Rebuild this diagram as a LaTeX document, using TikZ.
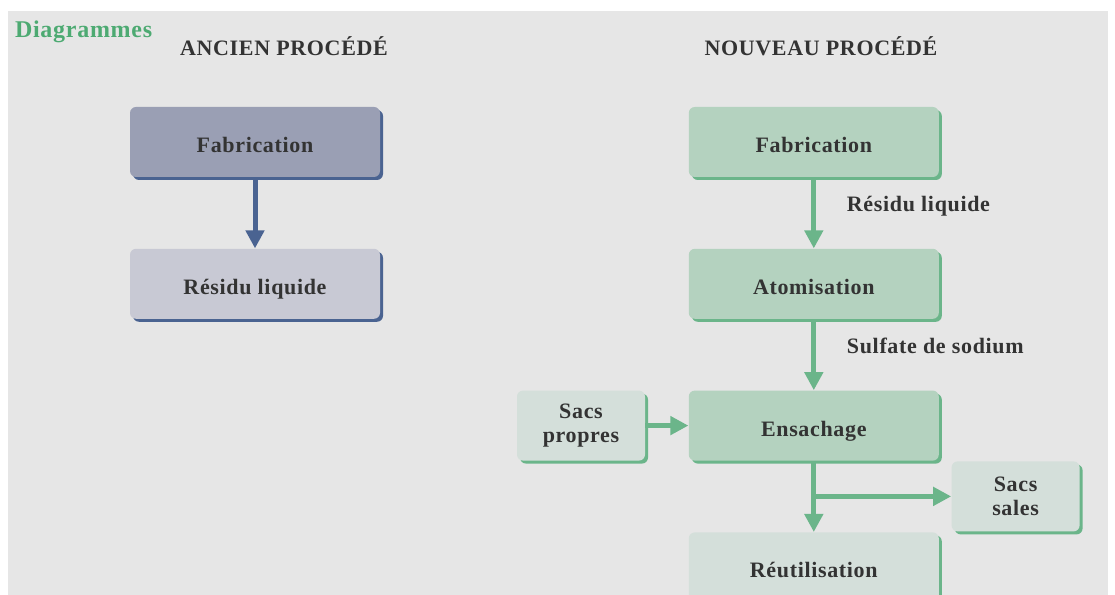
\documentclass[tikz,border=0pt]{standalone}
\usepackage{fontspec}
\setmainfont[LetterSpace=3]{Liberation Serif}
\usetikzlibrary{arrows.meta,positioning,shadows}

\definecolor{fond}{HTML}{E6E6E6}
\definecolor{txt}{HTML}{333333}
\definecolor{bleu}{HTML}{4A6391}
\definecolor{grisA}{HTML}{9A9FB4}
\definecolor{grisB}{HTML}{C8C9D4}
\definecolor{vert}{HTML}{6BB58A}
\definecolor{vertA}{HTML}{B4D2BF}
\definecolor{vertB}{HTML}{D4DFDA}
\definecolor{titreV}{HTML}{4DAA72}

\begin{document}
\begin{tikzpicture}[x=0.5pt, y=0.5pt, node distance=35.5pt,
    box/.style = {rounded corners=3pt, minimum width=125pt, minimum height=35pt,
        align=center, text=txt, font=\bfseries\fontsize{11}{12}\selectfont},
    oneline/.style = {text height=10.5pt, text depth=0pt},
    shadB/.style = {drop shadow={shadow xshift=1.5pt, shadow yshift=-1.5pt, fill=bleu, opacity=1}},
    shadG/.style = {drop shadow={shadow xshift=1.5pt, shadow yshift=-1.5pt, fill=vert, opacity=1}},
    oldbox/.style = {box, oneline, shadB},
    newbox/.style = {box, oneline, shadG},
    sidebox/.style = {box, shadG, fill=vertB, minimum width=64pt},
    arrB/.style = {draw=bleu, line width=2.5pt, -{Triangle[width=9pt,length=9pt]}},
    arrG/.style = {draw=vert, line width=2.5pt, -{Triangle[width=9pt,length=9pt]}},
    lbl/.style = {text=txt, font=\bfseries\fontsize{11}{12}\selectfont},
    titre/.style = {text=txt, font=\bfseries\fontsize{11}{12}\selectfont}]
    \useasboundingbox (0,0) rectangle (1115,595);
    \fill[fond] (8,0) rectangle (1108,584);

    \node[anchor=west, text=titreV, font=\bfseries\fontsize{12}{14}\selectfont] (diag) at (8,563) {Diagrammes};
    \node[titre] (ancien) at (284,549) {ANCIEN PROCÉDÉ};
    \node[titre] (nouveau) at (821,549) {NOUVEAU PROCÉDÉ};

    % ancien procede
    \node[oldbox, fill=grisA] (fabA) at (255,453) {Fabrication};
    \node[oldbox, fill=grisB] (resA) [below=of fabA] {Résidu liquide};
    \path[arrB] (fabA) -- (resA);

    % nouveau procede
    \node[newbox, fill=vertA] (fabN) [right=154pt of fabA] {Fabrication};
    \node[newbox, fill=vertA] (atom) [below=of fabN] {Atomisation};
    \node[newbox, fill=vertA] (ens) [below=of atom] {Ensachage};
    \node[newbox, fill=vertB] (reut) [below=of ens] {Réutilisation};
    \node[sidebox] (propres) [left=21.5pt of ens] {Sacs\\propres};
    \node[sidebox, anchor=north west] (sales) [below right=0pt and 6pt of ens.south east] {Sacs\\sales};

    \path[arrG] (fabN) -- node[lbl, pos=0.4, right=12pt] {Résidu liquide} (atom);
    \path[arrG] (atom) -- node[lbl, pos=0.38, right=12pt] {Sulfate de sodium} (ens);
    \path[arrG] (propres) -- (ens);
    \path[arrG] (ens) -- (reut);
    \coordinate (branch) at (ens.south |- sales.west);
    \path[arrG] (branch) -- (sales.west);
\end{tikzpicture}
\end{document}
